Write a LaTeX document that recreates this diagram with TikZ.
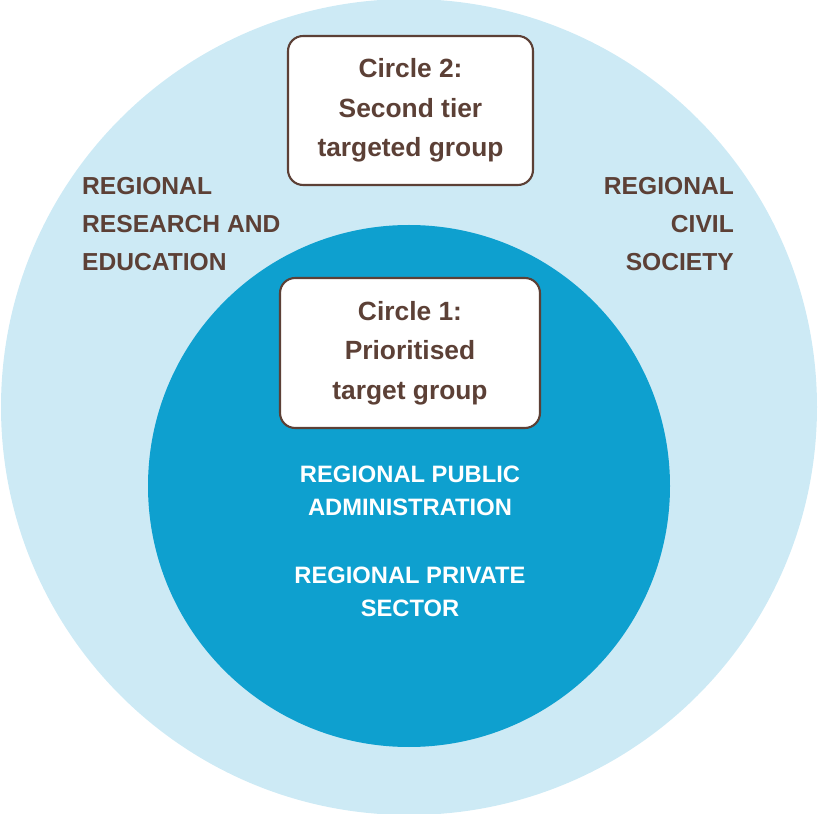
\documentclass[tikz,border=0pt]{standalone}
\usepackage{fontspec}
\setmainfont{Liberation Sans}
\definecolor{RingLight}{RGB}{205,234,245}
\definecolor{RingDark}{RGB}{14,160,207}
\definecolor{RingBrown}{RGB}{92,64,54}

\begin{document}
\begin{tikzpicture}[x=0.02cm,y=-0.02cm,
    tierbox/.style={draw=RingBrown,line width=1.2pt,fill=white,rounded corners=0.3cm,
      text=RingBrown,font=\fontsize{15}{22.5}\selectfont\bfseries,align=center},
    sector/.style={text=RingBrown,font=\fontsize{14}{21.5}\selectfont\bfseries},
    inner sector/.style={text=white,font=\fontsize{13.5}{19}\selectfont\bfseries,align=center}]
      \useasboundingbox (0,0) rectangle (819,814);
      % the two rings
      \fill[RingLight] (409,407) circle (408);
      \fill[RingDark] (409,486) circle (261);
      % tier boxes
      \node[tierbox,minimum width=4.9cm,minimum height=2.98cm] (c2) at (410.5,110.5) {Circle 2:\\Second tier\\targeted group};
      \node[tierbox,minimum width=5.2cm,minimum height=3cm] (c1) at (410,353) {Circle 1:\\Prioritised\\target group};
      % sectors
      \node[sector,align=left,anchor=west] (edu) at (76,224) {REGIONAL\\RESEARCH AND\\EDUCATION};
      \node[sector,align=right,anchor=east] (civ) at (740,224) {REGIONAL\\CIVIL\\SOCIETY};
      \node[inner sector] (pub) at (410,491) {REGIONAL PUBLIC\\ADMINISTRATION};
      \node[inner sector] (priv) at (410,592) {REGIONAL PRIVATE\\SECTOR};
    \end{tikzpicture}
\end{document}
